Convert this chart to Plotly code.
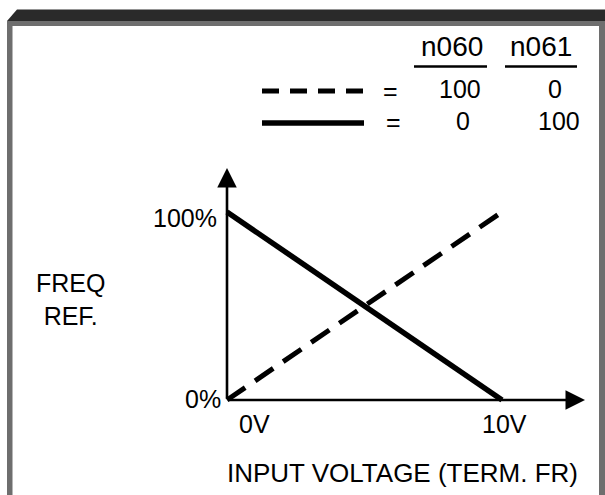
import plotly.graph_objects as go

# Input voltage at terminal FR (V) and resulting frequency reference (%)
voltage = [0, 10]
freq_n060 = [0, 100]     # n060 = 100, n061 = 0  (dashed)
freq_n061 = [100, 0]     # n060 = 0,   n061 = 100 (solid)

x_tick_labels = ["0V", "10V"]
y_tick_labels = ["0%", "100%"]
header_labels = ["n060", "n061"]
row_dashed = ["100", "0"]
row_solid = ["0", "100"]

W, H = 605, 495
FONT = "Liberation Sans, Arial, Helvetica, sans-serif"

# pixel placement of the plotted frame (origin and the 10 V / 100 % corner)
X0_PX, X10_PX = 227, 502
Y0_PX, Y100_PX = 400, 212
px_per_v = (X10_PX - X0_PX) / 10.0
px_per_pct = (Y0_PX - Y100_PX) / 100.0
x_range = [-X0_PX / px_per_v, (W - X0_PX) / px_per_v]
y_range = [-(H - Y0_PX) / px_per_pct, Y0_PX / px_per_pct]


def px(x):
    return x / W


def py(y):
    return 1 - y / H


def label(x, y, text, **kw):
    d = dict(x=px(x), y=py(y), xref="paper", yref="paper", text=text,
             showarrow=False, xanchor="center", yanchor="middle")
    d.update(kw)
    return d


fig = go.Figure()

fig.add_trace(go.Scatter(
    x=voltage, y=freq_n060, mode="lines",
    line=dict(color="black", width=5, dash="22px,12px"),
    hoverinfo="skip", showlegend=False,
))
fig.add_trace(go.Scatter(
    x=voltage, y=freq_n061, mode="lines",
    line=dict(color="black", width=5.5),
    hoverinfo="skip", showlegend=False,
))

annotations = []

# axis arrows
x_tip = (585 - X0_PX) / px_per_v
y_tip = (Y0_PX - 168) / px_per_pct
for (tx, ty) in [(x_tip, 0), (0, y_tip)]:
    annotations.append(dict(
        x=tx, y=ty, ax=0, ay=0, xref="x", yref="y", axref="x", ayref="y",
        text="", showarrow=True, arrowhead=2, arrowsize=1.5, arrowwidth=2.6,
        arrowcolor="black", standoff=0,
    ))

# tick labels
annotations.append(dict(x=voltage[0], y=0, xref="x", yref="y", text=x_tick_labels[0],
                        xanchor="center", yanchor="middle",
                        xshift=27, yshift=-24, showarrow=False))
annotations.append(dict(x=voltage[1], y=0, xref="x", yref="y", text=x_tick_labels[1],
                        xanchor="center", yanchor="middle",
                        xshift=2, yshift=-24, showarrow=False))
annotations.append(dict(x=0, y=0, xref="x", yref="y", text=y_tick_labels[0],
                        xanchor="right", yanchor="middle", xshift=-4, yshift=1, showarrow=False))
annotations.append(dict(x=0, y=100, xref="x", yref="y", text=y_tick_labels[1],
                        xanchor="right", yanchor="middle", xshift=-8, yshift=-6, showarrow=False))

# axis titles
annotations.append(label(70, 299, "FREQ<br>REF."))
annotations.append(label(402, 473, "INPUT VOLTAGE (TERM. FR)", font=dict(size=26)))

# parameter table
annotations.append(label(452, 47, header_labels[0], font=dict(size=28)))
annotations.append(label(541, 47, header_labels[1], font=dict(size=28)))
annotations.append(label(390, 91, "="))
annotations.append(label(393, 122, "="))
for text, xc in zip(row_dashed, [460, 555]):
    annotations.append(label(xc, 89, text))
for text, xc in zip(row_solid, [463, 559]):
    annotations.append(label(xc, 121, text))

shapes = []
# top dark band and grey frame
shapes.append(dict(type="path", xref="paper", yref="paper",
                   path=f"M {px(7)} {py(21)} L {px(17)} {py(9.5)} L {px(605)} {py(9.5)} L {px(605)} {py(21)} Z",
                   fillcolor="#2a2a2a", line=dict(width=0)))
shapes.append(dict(type="path", xref="paper", yref="paper",
                   path=(f"M {px(7)} {py(500)} L {px(7)} {py(21)} L {px(605)} {py(21)} L {px(605)} {py(500)} "
                         f"L {px(599)} {py(500)} L {px(599)} {py(26)} L {px(12.5)} {py(26)} L {px(12.5)} {py(500)} Z"),
                   fillcolor="#6e6e6e", line=dict(width=0)))
# header underlines
for x_a, x_b in [(414, 487), (505, 577)]:
    shapes.append(dict(type="line", xref="paper", yref="paper",
                       x0=px(x_a), x1=px(x_b), y0=py(66.5), y1=py(66.5),
                       line=dict(color="black", width=2.6)))
# line style keys
shapes.append(dict(type="line", xref="paper", yref="paper",
                   x0=px(262), x1=px(364), y0=py(91), y1=py(91),
                   line=dict(color="black", width=5, dash="17px,11px")))
shapes.append(dict(type="line", xref="paper", yref="paper",
                   x0=px(262), x1=px(364), y0=py(123), y1=py(123),
                   line=dict(color="black", width=5.5)))

fig.update_layout(
    width=W, height=H,
    margin=dict(l=0, r=0, t=0, b=0),
    paper_bgcolor="white", plot_bgcolor="white",
    font=dict(family=FONT, size=25, color="black"),
    xaxis=dict(range=x_range, visible=False, fixedrange=True),
    yaxis=dict(range=y_range, visible=False, fixedrange=True),
    annotations=annotations,
    shapes=shapes,
    showlegend=False,
)

fig.write_html("out.html")
